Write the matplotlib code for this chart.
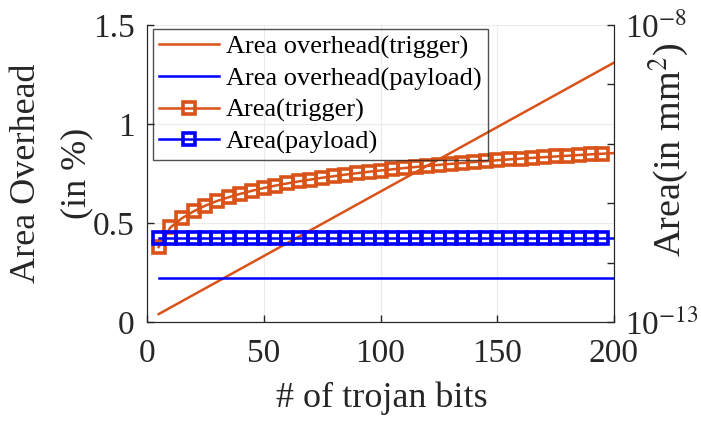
import matplotlib
matplotlib.use("Agg")
import matplotlib.pyplot as plt
import numpy as np

plt.rcParams['font.family'] = ['Liberation Serif', 'DejaVu Serif']
plt.rcParams['mathtext.fontset'] = 'stix'

# data
bits = [5, 10, 15, 20, 25, 30, 35, 40, 45, 50, 55, 60, 65, 70, 75, 80, 85, 90, 95, 100,
        105, 110, 115, 120, 125, 130, 135, 140, 145, 150, 155, 160, 165, 170, 175, 180, 185, 190, 195, 200]
overhead_trigger_bits = [5, 200]
overhead_trigger = [0.040, 1.310]
overhead_payload_bits = [5, 200]
overhead_payload = [0.223, 0.223]
area_trigger = [1.83e-12, 3.9e-12, 5.6e-12, 7.3e-12, 9.1e-12, 10.9e-12, 12.6e-12, 14.4e-12, 16.2e-12, 18.0e-12,
                19.8e-12, 21.5e-12, 23.3e-12, 25.0e-12, 26.8e-12, 28.5e-12, 30.3e-12, 32.0e-12, 33.8e-12, 35.5e-12,
                37.2e-12, 39.0e-12, 40.7e-12, 42.4e-12, 44.2e-12, 45.9e-12, 47.6e-12, 49.3e-12, 51.0e-12, 52.8e-12,
                54.5e-12, 56.2e-12, 57.9e-12, 59.6e-12, 61.3e-12, 63.0e-12, 64.7e-12, 66.4e-12, 68.1e-12, 69.8e-12]
area_payload = [2.63e-12] * 40

x_ticks = [0, 50, 100, 150, 200]
y_ticks = [0, 0.5, 1, 1.5]
y_tick_labels = ['0', '0.5', '1', '1.5']
r_ticks = [1e-13, 1e-12, 1e-11, 1e-10, 1e-9, 1e-8]
r_tick_labels = ['10$^{-13}$', '', '', '', '', '10$^{-8}$']

orange = '#D95319'
blue = '#0000FF'
W, H = 701, 423

fig = plt.figure(figsize=(7.01, 4.23), dpi=100)
ax = fig.add_axes([147 / W, 1 - 322 / H, 467 / W, 297 / H])
ax2 = ax.twinx()

l1, = ax.plot(overhead_trigger_bits, overhead_trigger, color=orange, lw=1.8, label='Area overhead(trigger)')
l2, = ax.plot(overhead_payload_bits, overhead_payload, color=blue, lw=1.8, label='Area overhead(payload)')

n = len(bits)
l3, = ax2.plot(bits, area_trigger, color=orange, lw=1.8, marker='s', ms=9.3, mfc='none', mew=2.6,
               markevery=list(range(n - 1)), label='Area(trigger)')
l4, = ax2.plot(bits, area_payload, color=blue, lw=1.8, marker='s', ms=9.3, mfc='none', mew=2.6,
               markevery=list(range(n - 1)), label='Area(payload)')

ax.set_xlim(0, 200)
ax.set_ylim(0, 1.5)
ax.set_xticks(x_ticks)
ax.set_yticks(y_ticks)
ax.set_yticklabels(y_tick_labels)
ax2.set_yscale('log')
ax2.set_ylim(1e-13, 1e-8)
ax2.set_yticks(r_ticks)
ax2.set_yticklabels(r_tick_labels)
ax2.yaxis.set_minor_locator(matplotlib.ticker.NullLocator())

ax.grid(True, color='#ebebeb', lw=0.8)
ax.set_axisbelow(True)

for a in (ax, ax2):
    a.spines['top'].set_visible(False)
    a.tick_params(direction='in', length=5, width=1, labelsize=24, colors='#262626')
    for s in a.spines.values():
        s.set_color('#262626')
ax.tick_params(axis='x', pad=12)
ax.tick_params(axis='y', pad=9)
ax2.tick_params(axis='y', pad=8)

fig.text(382 / W, 1 - 398 / H, '# of trojan bits', fontsize=26, ha='center', va='center', color='#262626')
fig.text(27 / W, 1 - 173 / H, 'Area Overhead', fontsize=26, rotation=90, ha='center', va='center', color='#262626')
fig.text(77 / W, 1 - 173 / H, '(in %)', fontsize=26, rotation=90, ha='center', va='center', color='#262626')
fig.text(668 / W, 1 - 150 / H, 'Area(in mm$^2$)', fontsize=27.5, rotation=90, ha='center', va='center', color='#262626')

leg = ax2.legend(handles=[l1, l2, l3, l4], loc='upper left', bbox_to_anchor=(6 / 467, 1 - 4 / 297),
                 fontsize=19, frameon=True, fancybox=False, handlelength=2.3,
                 handletextpad=0.25, borderpad=0.22, labelspacing=0.3, borderaxespad=0)
leg.get_frame().set_edgecolor('#262626')
leg.get_frame().set_facecolor('none')
leg.get_frame().set_linewidth(1.0)

fig.savefig('out.png', dpi=100)
